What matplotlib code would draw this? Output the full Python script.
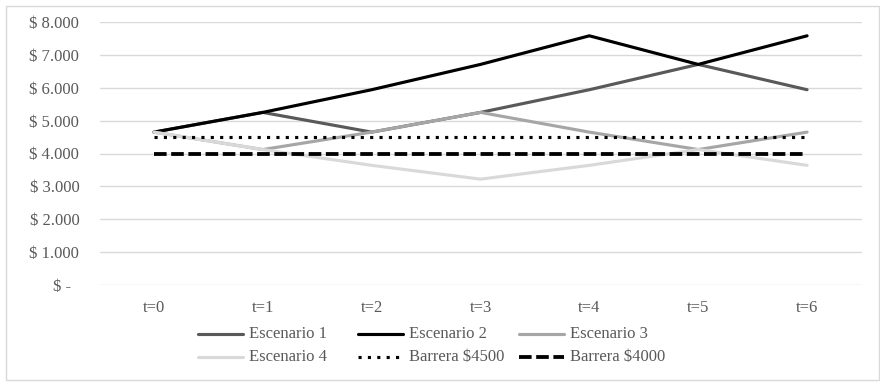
import matplotlib
matplotlib.use("Agg")
import matplotlib.pyplot as plt
from matplotlib.lines import Line2D
from matplotlib.patches import Rectangle
from matplotlib.ticker import FixedLocator

# ---- data ----
periods = ["t=0", "t=1", "t=2", "t=3", "t=4", "t=5", "t=6"]
escenario_1 = [4650, 5250, 4650, 5250, 5940, 6710, 5940]
escenario_2 = [4650, 5250, 5940, 6710, 7580, 6710, 7580]
escenario_3 = [4650, 4120, 4650, 5250, 4650, 4120, 4650]
escenario_4 = [4650, 4120, 3640, 3220, 3640, 4120, 3640]
barrera_4500 = [4500] * 7
barrera_4000 = [4000] * 7
y_ticks = [0, 1000, 2000, 3000, 4000, 5000, 6000, 7000, 8000]
y_tick_labels = ["$ -\u2007", "$ 1.000", "$ 2.000", "$ 3.000", "$ 4.000",
                 "$ 5.000", "$ 6.000", "$ 7.000", "$ 8.000"]

W, H = 880, 382
FONT = "Liberation Serif"
TXT = "#595959"
FS = 12

fig = plt.figure(figsize=(W / 100, H / 100), dpi=100)
fig.patch.set_facecolor("white")


def fx(px):
    return px / W


def fy(py):
    return 1 - py / H


# plot area
left, right, top, bottom = 99.5, 861.5, 22, 285
ax = fig.add_axes([fx(left), fy(bottom), fx(right) - fx(left), fy(top) - fy(bottom)])
x = list(range(len(periods)))

series = [
    ("Escenario 1", escenario_1, dict(color="#595959", lw=2.25, ls="-")),
    ("Escenario 2", escenario_2, dict(color="#000000", lw=2.25, ls="-")),
    ("Escenario 3", escenario_3, dict(color="#a6a6a6", lw=2.25, ls="-")),
    ("Escenario 4", escenario_4, dict(color="#d9d9d9", lw=2.25, ls="-")),
    ("Barrera $4500", barrera_4500, dict(color="#000000", lw=2.25, ls=(0, (1, 2)))),
    ("Barrera $4000", barrera_4000, dict(color="#000000", lw=2.75, ls=(0, (3.3, 1.2)))),
]

for i, (name, vals, st) in enumerate(series):
    ax.plot(x, vals, color=st["color"], lw=st["lw"], linestyle=st["ls"],
            solid_joinstyle="round", solid_capstyle="round",
            dash_capstyle="butt", zorder=3 + i)

ax.set_xlim(-0.5, len(periods) - 0.5)
ax.set_ylim(0, 8000)
ax.yaxis.set_major_locator(FixedLocator(y_ticks))
ax.set_yticklabels(y_tick_labels)
ax.set_xticks(x)
ax.set_xticklabels(periods)
ax.grid(axis="y", color="#d9d9d9", lw=1.0, zorder=0)
ax.set_axisbelow(True)
for s in ax.spines.values():
    s.set_visible(False)
ax.tick_params(axis="both", length=0, colors=TXT, labelsize=FS)
ax.tick_params(axis="y", pad=14.5)
ax.tick_params(axis="x", pad=11.0)
for lab in ax.get_xticklabels() + ax.get_yticklabels():
    lab.set_fontfamily(FONT)
    lab.set_color(TXT)

# legend: 3 columns x 2 rows
col_x = [198, 358, 519]
row_y = [334, 357]
hl = 45
for i, (name, vals, st) in enumerate(series):
    r, c = divmod(i, 3)
    x0 = col_x[c]
    y0 = row_y[r]
    fig.add_artist(Line2D([fx(x0), fx(x0 + hl)], [fy(y0), fy(y0)],
                          transform=fig.transFigure, color=st["color"],
                          lw=st["lw"], linestyle=st["ls"],
                          solid_capstyle="round", dash_capstyle="butt"))
    fig.text(fx(x0 + hl + 6), fy(y0), name, fontfamily=FONT, fontsize=FS,
             color=TXT, va="center", ha="left")

# chart border
fig.add_artist(Rectangle((fx(6), fy(380)), fx(873), 374 / H,
                         transform=fig.transFigure, fill=False,
                         edgecolor="#d9d9d9", lw=1.0))

fig.savefig("out.png", dpi=100, facecolor="white")
